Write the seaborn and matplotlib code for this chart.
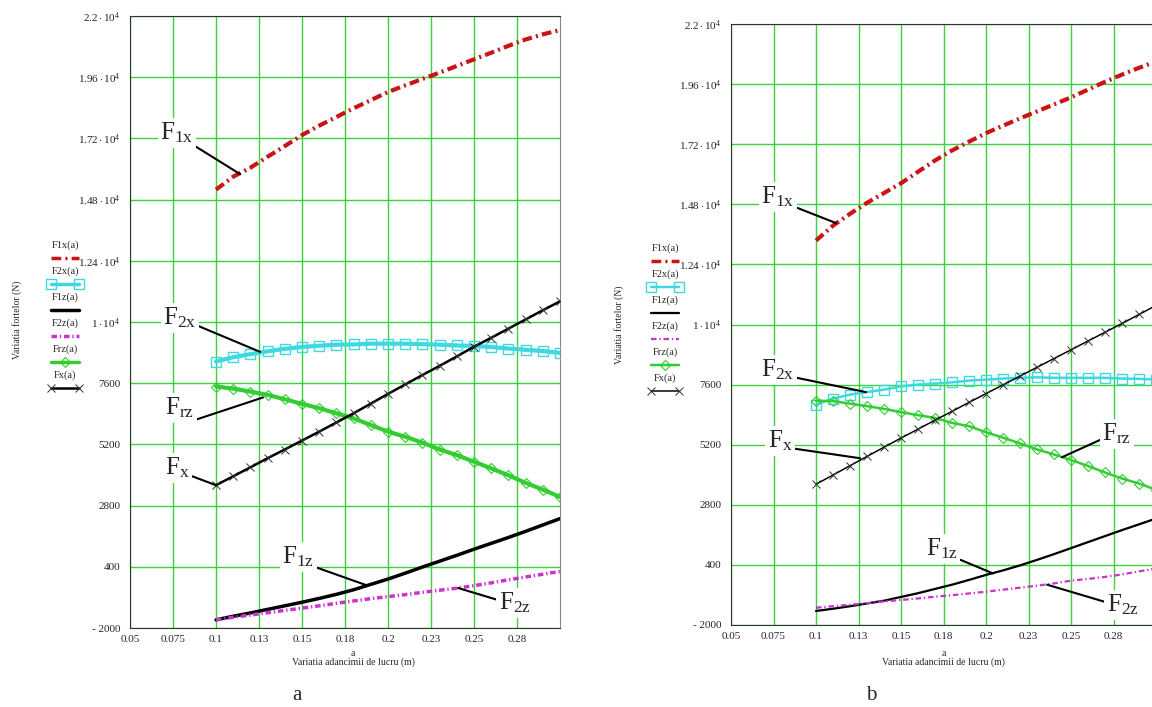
import matplotlib
matplotlib.use('Agg')
import matplotlib.pyplot as plt
from matplotlib.lines import Line2D
import pandas as pd
import seaborn as sns

# depth of cut a (m)
a = [0.10, 0.11, 0.12, 0.13, 0.14, 0.15, 0.16, 0.17, 0.18, 0.19, 0.20,
     0.21, 0.22, 0.23, 0.24, 0.25, 0.26, 0.27, 0.28, 0.29, 0.30]

# panel a forces (N)
F1x_a = [15190, 15700, 16050, 16480, 16900, 17330, 17700, 18040, 18380, 18700, 19020,
         19280, 19530, 19780, 20040, 20300, 20560, 20830, 21080, 21280, 21450]
F2x_a = [8450, 8620, 8740, 8850, 8950, 9020, 9070, 9110, 9120, 9150, 9150,
         9150, 9130, 9110, 9080, 9060, 9020, 8960, 8910, 8860, 8790]
F1z_a = [-1680, -1540, -1410, -1270, -1130, -990, -840, -680, -500, -290, -80,
         150, 390, 620, 850, 1090, 1320, 1550, 1790, 2040, 2290]
F2z_a = [-1680, -1580, -1490, -1400, -1310, -1220, -1130, -1030, -940, -850, -770,
         -690, -600, -520, -440, -340, -230, -110, 0, 110, 220]
Frz_a = [7470, 7390, 7270, 7140, 6970, 6790, 6620, 6420, 6220, 5960, 5700,
         5500, 5270, 5000, 4780, 4520, 4260, 3990, 3690, 3430, 3140]
Fx_a = [3600, 3950, 4300, 4660, 5000, 5350, 5700, 6060, 6420, 6800, 7180,
        7550, 7920, 8280, 8650, 9030, 9380, 9740, 10100, 10460, 10810]

# panel b forces (N)
F1x_b = [13350, 13950, 14420, 14860, 15250, 15640, 16100, 16550, 16950, 17300, 17640,
         17940, 18230, 18510, 18790, 19070, 19380, 19690, 19980, 20250, 20500]
F2x_b = [6800, 7040, 7200, 7300, 7400, 7530, 7600, 7640, 7690, 7760, 7800,
         7840, 7870, 7890, 7870, 7870, 7870, 7870, 7840, 7830, 7800]
F1z_b = [-1440, -1350, -1250, -1140, -1030, -880, -730, -560, -390, -200, 0,
         180, 380, 600, 830, 1070, 1310, 1550, 1790, 2020, 2250]
F2z_b = [-1310, -1250, -1190, -1130, -1060, -1000, -940, -870, -810, -740, -670,
         -590, -510, -430, -340, -230, -160, -80, 20, 140, 260]
Frz_b = [6960, 6940, 6840, 6740, 6630, 6500, 6380, 6270, 6070, 5940, 5700,
         5480, 5250, 5010, 4810, 4590, 4350, 4090, 3850, 3650, 3400]
Fx_b = [3620, 3990, 4360, 4730, 5100, 5465, 5820, 6180, 6530, 6890, 7240,
        7590, 7940, 8290, 8640, 8990, 9340, 9690, 10040, 10400, 10760]

series = ['F1x', 'F2x', 'F1z', 'F2z', 'Frz', 'Fx']
legend_labels = ['F1x(a)', 'F2x(a)', 'F1z(a)', 'F2z(a)', 'Frz(a)', 'Fx(a)']

x_ticks = [0.05, 0.075, 0.1, 0.125, 0.15, 0.175, 0.2, 0.225, 0.25, 0.275]
x_ticklabels = ['0.05', '0.075', '0.1', '0.13', '0.15', '0.18', '0.2', '0.23', '0.25', '0.28']
y_ticks = [-2000, 400, 2800, 5200, 7600, 10000, 12400, 14800, 17200, 19600, 22000]
y_ticklabels = ['- 2000', '400', '2800', '5200', '7600',
                r'$\mathrm{1\cdot10^{4}}$', r'$\mathrm{1.24\cdot10^{4}}$',
                r'$\mathrm{1.48\cdot10^{4}}$', r'$\mathrm{1.72\cdot10^{4}}$',
                r'$\mathrm{1.96\cdot10^{4}}$', r'$\mathrm{2.2\cdot10^{4}}$']

def make_df(vals):
    rows = []
    for name, v in zip(series, vals):
        rows.append(pd.DataFrame({'a': a, 'force': v, 'series': name}))
    return pd.concat(rows, ignore_index=True)

df_a = make_df([F1x_a, F2x_a, F1z_a, F2z_a, Frz_a, Fx_a])
df_b = make_df([F1x_b, F2x_b, F1z_b, F2z_b, Frz_b, Fx_b])

sns.set_style('white')
plt.rcParams['font.family'] = ['Liberation Serif', 'DejaVu Serif']
plt.rcParams['mathtext.fontset'] = 'custom'
plt.rcParams['mathtext.rm'] = 'Liberation Serif'
plt.rcParams['mathtext.it'] = 'Liberation Serif:italic'
plt.rcParams['lines.scale_dashes'] = False

RED = '#cc1414'
CYAN = '#3dd8e0'
MAG = '#cc33cc'
GREEN = '#33cc33'

def styles(thin):
    k = 0.6 if thin else 1.0
    return {
        'F1x': dict(color=RED, linewidth=3, linestyle=(0, (7, 3, 1.5, 3))),
        'F2x': dict(color=CYAN, linewidth=3 * k, marker='s', markersize=7,
                    markerfacecolor='none', markeredgecolor=CYAN, markeredgewidth=1),
        'F1z': dict(color='black', linewidth=2.2 * k + 0.3),
        'F2z': dict(color=MAG, linewidth=2.2 * k + 0.3, linestyle=(0, (4, 2, 1, 2))),
        'Frz': dict(color=GREEN, linewidth=3 * k, marker='D', markersize=5,
                    markerfacecolor='none', markeredgecolor=GREEN, markeredgewidth=0.8),
        'Fx': dict(color='black', linewidth=1.8 * k, marker='x', markersize=6,
                   markeredgecolor='#333333', markeredgewidth=0.7),
    }

W, H = 1152, 707
fig = plt.figure(figsize=(W / 100, H / 100), dpi=100)

def fx(px):
    return px / W

def fy(py):
    return 1 - py / H

ax_a = fig.add_axes([fx(130), fy(628), 430 / W, 612 / H])
ax_b = fig.add_axes([fx(731), fy(625), 425 / W, 601 / H])

def draw_panel(ax, df, thin):
    st = styles(thin)
    for name in series:
        sub = df[df['series'] == name]
        sns.lineplot(data=sub, x='a', y='force', ax=ax, errorbar=None,
                     legend=False, zorder=3, **st[name])
    ax.set_xlim(0.05, 0.3)
    ax.set_ylim(-2000, 22000)
    ax.set_xticks(x_ticks)
    ax.set_xticklabels(x_ticklabels)
    ax.set_yticks(y_ticks)
    ax.set_yticklabels(y_ticklabels)
    ax.tick_params(axis='both', length=0, labelsize=8)
    ax.tick_params(axis='y', pad=7)
    ax.tick_params(axis='x', pad=5)
    ax.grid(True, color='#3ad23a', linewidth=1)
    ax.set_axisbelow(True)
    for s in ['left', 'bottom', 'top']:
        ax.spines[s].set_color('#333333')
    ax.spines['right'].set_color('#888888')
    ax.set_ylabel('')
    ax.set_xlabel('a\nVariatia adancimii de lucru (m)', fontsize=7, linespacing=0.9)

draw_panel(ax_a, df_a, thin=False)
draw_panel(ax_b, df_b, thin=True)
ax_a.xaxis.set_label_coords(0.519, -0.035)
ax_b.xaxis.set_label_coords(0.501, -0.04)

# curve labels with leader lines: (text, text xy, point xy, relpos)
labels_a = [
    (r'$\mathrm{F_{1x}}$', (0.0773, 17414), (0.114, 15800), (1, 0)),
    (r'$\mathrm{F_{2x}}$', (0.079, 10162), (0.1256, 8830), (1, 0.2)),
    (r'$\mathrm{F_{rz}}$', (0.079, 6634), (0.1273, 7040), (1, 0)),
    (r'$\mathrm{F_{x}}$', (0.0773, 4282), (0.1, 3600), (1, 0.2)),
    (r'$\mathrm{F_{1z}}$', (0.1477, 792), (0.1878, -330), (1, 0.1)),
    (r'$\mathrm{F_{2z}}$', (0.2738, -1010), (0.2407, -430), (0, 0.6)),
]
labels_b = [
    (r'$\mathrm{F_{1x}}$', (0.0776, 15092), (0.1118, 14050), (1, 0.1)),
    (r'$\mathrm{F_{2x}}$', (0.0776, 8184), (0.1294, 7300), (1, 0.2)),
    (r'$\mathrm{F_{x}}$', (0.0788, 5349), (0.1259, 4660), (1, 0.2)),
    (r'$\mathrm{F_{rz}}$', (0.277, 5629), (0.2447, 4700), (0, 0.3)),
    (r'$\mathrm{F_{1z}}$', (0.1741, 1036), (0.2041, 60), (1, 0.1)),
    (r'$\mathrm{F_{2z}}$', (0.2806, -1199), (0.2359, -390), (0, 0.6)),
]

for ax, labs in [(ax_a, labels_a), (ax_b, labels_b)]:
    for txt, xyt, xyp, rp in labs:
        ax.annotate(txt, xy=xyp, xytext=xyt, textcoords='data', fontsize=18,
                    ha='center', va='center', zorder=5,
                    bbox=dict(boxstyle='square,pad=0.1', fc='white', ec='none'),
                    arrowprops=dict(arrowstyle='-', color='black', lw=1.5,
                                    relpos=rp, shrinkA=0, shrinkB=0))

# Mathcad style legends: label above each sample line
def draw_legend(x_center, y_top, thin):
    st = styles(thin)
    for i, (name, lab) in enumerate(zip(series, legend_labels)):
        yl = y_top + i * 26
        fig.text(fx(x_center), fy(yl), lab, fontsize=7.5, ha='center', va='center')
        kw = dict(st[name])
        kw['linewidth'] = min(kw['linewidth'], 2.5)
        if 'marker' in kw:
            kw['markevery'] = [0, 2] if name != 'Frz' else [1]
        fig.add_artist(Line2D([fx(x_center - 14), fx(x_center), fx(x_center + 14)],
                              [fy(yl + 13)] * 3, transform=fig.transFigure, **kw))

draw_legend(65, 245, thin=False)
draw_legend(665, 248, thin=True)

fig.text(fx(17), fy(320), 'Variatia fortelor (N)', rotation=90, fontsize=7,
         ha='center', va='center')
fig.text(fx(619), fy(325), 'Variatia fortelor (N)', rotation=90, fontsize=7,
         ha='center', va='center')

fig.text(fx(297), fy(695), 'a', fontsize=15, ha='center', va='center')
fig.text(fx(871), fy(695), 'b', fontsize=15, ha='center', va='center')

fig.savefig('out.png', dpi=100)
